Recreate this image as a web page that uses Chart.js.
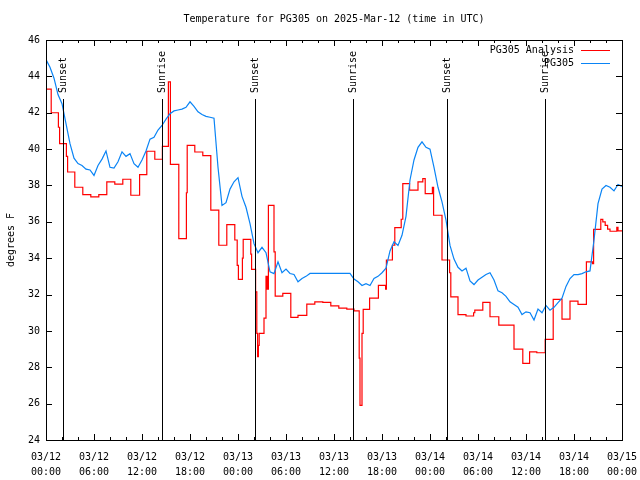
<!DOCTYPE html>
<html>
<head>
<meta charset="utf-8">
<script src="https://cdn.jsdelivr.net/npm/chart.js@4.4.1/dist/chart.umd.min.js"></script>
<style>
  html, body { margin: 0; background: #fff; }
  canvas { display: block; }
</style>
</head>
<body>
<canvas id="chart" width="640" height="480"></canvas>
<script>
const titleText = "Temperature for PG305 on 2025-Mar-12 (time in UTC)";
const yAxisTitle = "degrees F";
const seriesNames = ["PG305 Analysis", "PG305"];

// tick labels every 6 hours from 03/12 00:00
const xTickLabels = [
  ["03/12", "00:00"], ["03/12", "06:00"], ["03/12", "12:00"], ["03/12", "18:00"],
  ["03/13", "00:00"], ["03/13", "06:00"], ["03/13", "12:00"], ["03/13", "18:00"],
  ["03/14", "00:00"], ["03/14", "06:00"], ["03/14", "12:00"], ["03/14", "18:00"],
  ["03/15", "00:00"]
];

// sunset / sunrise, hours after 03/12 00:00
const sunHours = [2.17, 14.54, 26.17, 38.42, 50.125, 62.4];
const sunLabels = ["Sunset", "Sunrise", "Sunset", "Sunrise", "Sunset", "Sunrise"];

// analysis: value holds from this hour until the next one
const redHours = [
  0, 0.65, 1.55, 1.7, 2.55, 2.7, 3.6, 4.6, 5.6, 6.6,
  7.6, 8.6, 9.6, 10.6, 11.7, 12.6, 13.6, 14.55, 15.3, 15.55,
  16.6, 17.55, 17.65, 18.6, 19.6, 20.6, 21.6, 22.6, 23.6, 23.9,
  24.05, 24.55, 24.65, 25.6, 25.7, 26.2, 26.35, 26.45, 26.55, 26.65,
  27.25, 27.5, 27.65, 27.8, 28.5, 28.65, 29.6, 30.6, 31.5, 32.6,
  33.6, 34.6, 35.6, 36.6, 37.6, 38.5, 39.15, 39.25, 39.5, 39.65,
  40.45, 41.55, 42.45, 42.55, 43.3, 43.6, 44.4, 44.6, 45.45, 46.5,
  47.1, 47.4, 48.3, 48.45, 49.5, 50.45, 50.6, 51.5, 52.5, 53.45,
  53.6, 54.6, 55.5, 56.6, 58.5, 59.6, 60.45, 61.35, 62.4, 63.4,
  64.5, 65.5, 66.5, 67.55, 68.3, 68.45, 69.35, 69.6, 69.9, 70.2,
  70.5, 71.35, 71.5, 72
];
const redTemps = [
  43.3, 42.0, 41.2, 40.3, 39.6, 38.74, 37.9, 37.5, 37.37, 37.5,
  38.2, 38.07, 38.34, 37.46, 38.6, 39.88, 39.44, 40.15, 43.7, 39.16,
  35.08, 37.6, 40.2, 39.84, 39.64, 36.64, 34.71, 35.85, 35.0, 33.6,
  32.83, 34.0, 35.03, 34.22, 33.38, 32.15, 29.86, 28.58, 29.2, 29.86,
  30.7, 33.0, 32.3, 36.9, 34.35, 31.91, 32.06, 30.74, 30.85, 31.47,
  31.6, 31.57, 31.38, 31.25, 31.2, 31.1, 28.5, 25.9, 29.86, 31.18,
  31.8, 32.5, 32.3, 33.9, 34.71, 35.68, 36.14, 38.1, 37.74, 38.2,
  38.38, 37.55, 37.9, 36.36, 33.9, 33.2, 31.87, 30.9, 30.82, 31.0,
  31.14, 31.57, 30.78, 30.32, 29.0, 28.21, 28.85, 28.8, 29.53, 31.73,
  30.65, 31.64, 31.46, 33.8, 33.7, 35.58, 36.13, 36.0, 35.8, 35.6,
  35.48, 35.7, 35.5, 35.5
];

// station obs, one every half hour
const blueStepHours = 0.5;
const blueTemps = [
  44.92, 44.5, 43.9, 43.0, 42.5, 41.4, 40.3, 39.5, 39.2, 39.1,
  38.9, 38.85, 38.55, 39.1, 39.45, 39.9, 39.0, 38.95, 39.3, 39.85,
  39.6, 39.75, 39.2, 39.0, 39.4, 39.9, 40.55, 40.65, 41.05, 41.3,
  41.65, 41.95, 42.1, 42.15, 42.2, 42.3, 42.6, 42.35, 42.05, 41.9,
  41.8, 41.75, 41.7, 39.0, 36.9, 37.05, 37.8, 38.2, 38.43, 37.4,
  36.8, 35.9, 34.8, 34.3, 34.6, 34.3, 33.25, 33.15, 33.8, 33.2,
  33.4, 33.16, 33.1, 32.7, 32.88, 33.0, 33.16, 33.16, 33.16, 33.16,
  33.16, 33.16, 33.16, 33.16, 33.16, 33.16, 33.16, 32.85, 32.7, 32.5,
  32.6, 32.5, 32.88, 33.0, 33.2, 33.45, 34.4, 34.9, 34.7, 35.26,
  36.3, 38.3, 39.4, 40.1, 40.4, 40.1, 40.0, 39.0, 37.9, 37.1,
  36.1, 34.7, 33.95, 33.5, 33.3, 33.45, 32.75, 32.55, 32.8, 32.95,
  33.1, 33.2, 32.8, 32.2, 32.1, 31.9, 31.6, 31.45, 31.3, 30.9,
  31.05, 31.0, 30.6, 31.2, 31.0, 31.4, 31.14, 31.3, 31.55, 31.8,
  32.45, 32.88, 33.1, 33.1, 33.15, 33.25, 33.3, 35.0, 37.0, 37.8,
  38.0, 37.9, 37.7, 38.05, 37.95
];

const RED = "#ff0000";
const BLUE = "#0a84f5";
const FONT_FAMILY = '"DejaVu Sans Mono", "Liberation Mono", monospace';
const FONT = "10px " + FONT_FAMILY;

const redData = redHours.map((h, i) => ({ x: h, y: redTemps[i] }));
const blueData = blueTemps.map((t, i) => ({ x: i * blueStepHours, y: t }));

function crisp(v) {
  return Math.round(v) + 0.5;
}

// gnuplot style frame: box, inward ticks, sun markers, title and key
const gnuplotFrame = {
  id: "gnuplotFrame",
  afterDraw(chart) {
    const { ctx, chartArea: a } = chart;
    const xs = chart.scales.x;
    const ys = chart.scales.y;
    ctx.save();
    ctx.strokeStyle = "#000";
    ctx.fillStyle = "#000";
    ctx.lineWidth = 1;
    ctx.font = FONT;

    // sunset / sunrise lines
    sunHours.forEach((h, i) => {
      const px = crisp(xs.getPixelForValue(h));
      ctx.beginPath();
      ctx.moveTo(px, a.bottom);
      ctx.lineTo(px, a.top + 59);
      ctx.stroke();
      ctx.save();
      ctx.translate(px, a.top + 53);
      ctx.rotate(-Math.PI / 2);
      ctx.textAlign = "left";
      ctx.textBaseline = "middle";
      ctx.fillText(sunLabels[i], 0, 0);
      ctx.restore();
    });

    // border
    ctx.strokeRect(crisp(a.left), crisp(a.top), Math.round(a.right - a.left), Math.round(a.bottom - a.top));

    // x ticks, major every 6 h, minor every 2 h
    ctx.beginPath();
    for (let h = xs.min; h <= xs.max; h += 2) {
      const px = crisp(xs.getPixelForValue(h));
      const len = h % 6 === 0 ? 6 : 3;
      ctx.moveTo(px, a.bottom);
      ctx.lineTo(px, a.bottom - len);
      ctx.moveTo(px, a.top);
      ctx.lineTo(px, a.top + len);
    }
    ys.ticks.forEach((t) => {
      const py = crisp(ys.getPixelForValue(t.value));
      ctx.moveTo(a.left, py);
      ctx.lineTo(a.left + 6, py);
      ctx.moveTo(a.right, py);
      ctx.lineTo(a.right - 6, py);
    });
    ctx.stroke();

    // title
    ctx.textAlign = "center";
    ctx.textBaseline = "middle";
    ctx.fillText(titleText, (a.left + a.right) / 2, 19);

    // y axis title
    ctx.save();
    ctx.translate(11, (a.top + a.bottom) / 2);
    ctx.rotate(-Math.PI / 2);
    ctx.fillText(yAxisTitle, 0, 0);
    ctx.restore();

    // key
    const colors = [RED, BLUE];
    seriesNames.forEach((name, i) => {
      const ly = a.top + 10 + i * 13;
      ctx.fillStyle = "#000";
      ctx.textAlign = "right";
      ctx.fillText(name, a.right - 48, ly);
      ctx.strokeStyle = colors[i];
      ctx.beginPath();
      ctx.moveTo(a.right - 41, crisp(ly));
      ctx.lineTo(a.right - 12, crisp(ly));
      ctx.stroke();
    });
    ctx.restore();
  }
};

const tickFont = { family: FONT_FAMILY, size: 10, lineHeight: 1.5 };

new Chart(document.getElementById("chart"), {
  type: "line",
  data: {
    datasets: [
      {
        label: seriesNames[0],
        data: redData,
        borderColor: RED,
        borderWidth: 1.2,
        stepped: "before",
        pointRadius: 0,
        order: 1
      },
      {
        label: seriesNames[1],
        data: blueData,
        borderColor: BLUE,
        borderWidth: 1.2,
        pointRadius: 0,
        tension: 0,
        order: 0
      }
    ]
  },
  options: {
    responsive: false,
    animation: false,
    devicePixelRatio: 1,
    layout: { padding: { top: 40, right: 18, left: 0, bottom: 0 } },
    plugins: {
      legend: { display: false },
      tooltip: { enabled: false },
      title: { display: false }
    },
    scales: {
      x: {
        type: "linear",
        min: 0,
        max: 72,
        afterFit: (s) => {
          s.height = 40;
          s.paddingLeft = 0;
          s.paddingRight = 0;
        },
        grid: { display: false, drawTicks: false },
        border: { display: false },
        ticks: {
          stepSize: 6,
          autoSkip: false,
          maxRotation: 0,
          padding: 10,
          color: "#000",
          font: tickFont,
          callback: (v) => xTickLabels[Math.round(v / 6)]
        }
      },
      y: {
        min: 24,
        max: 46,
        afterFit: (s) => {
          s.width = 46;
          s.paddingTop = 0;
          s.paddingBottom = 0;
        },
        grid: { display: false, drawTicks: false },
        border: { display: false },
        ticks: {
          stepSize: 2,
          padding: 6,
          color: "#000",
          font: { family: FONT_FAMILY, size: 10 }
        }
      }
    }
  },
  plugins: [gnuplotFrame]
});
</script>
</body>
</html>
